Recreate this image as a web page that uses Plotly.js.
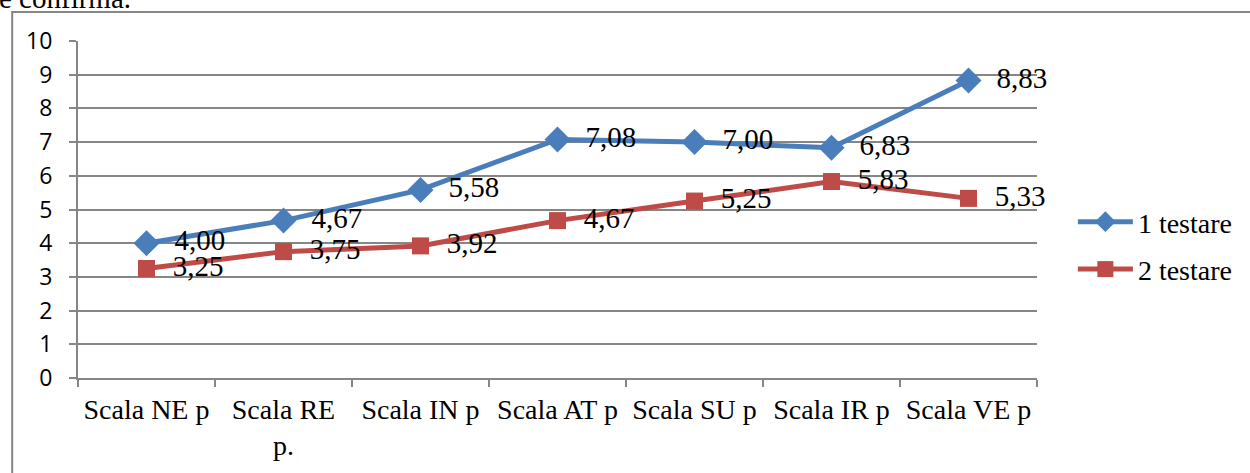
<!DOCTYPE html>
<html>
<head>
<meta charset="utf-8">
<script src="https://cdn.plot.ly/plotly-3.0.1.min.js"></script>
<style>
html,body{margin:0;padding:0;background:#fff;}
#chart{width:1250px;height:473px;}
</style>
</head>
<body>
<div id="chart"></div>
<script>
const categories = ["Scala NE p", "Scala RE p.", "Scala IN p", "Scala AT p", "Scala SU p", "Scala IR p", "Scala VE p"];
const tickLabels = ["Scala NE p", "Scala RE<br>p.", "Scala IN p", "Scala AT p", "Scala SU p", "Scala IR p", "Scala VE p"];
const series1Name = "1 testare";
const series1 = [4.00, 4.67, 5.58, 7.08, 7.00, 6.83, 8.83];
const series2Name = "2 testare";
const series2 = [3.25, 3.75, 3.92, 4.67, 5.25, 5.83, 5.33];
const yTicks = [0,1,2,3,4,5,6,7,8,9,10];

const W = 1250, H = 473;
const L = 78, R = 210, T = 41, B = 95;
const pw = W - L - R, ph = H - T - B;
const px = x => (x - L) / pw;
const py = y => (H - B - y) / ph;

const serif = "Liberation Serif, Times New Roman, serif";
const labelTpl = "\u00a0\u00a0%{y:.2f}";

const traces = [
  {
    x: categories, y: series1, name: series1Name, type: "scatter",
    mode: "lines+markers+text",
    line: {color: "#4a7ebb", width: 5},
    marker: {symbol: "diamond", size: 20, color: "#4a7ebb"},
    texttemplate: labelTpl, textposition: "middle right",
    textfont: {family: serif, size: 29, color: "#000"},
    legendgroup: "a", cliponaxis: false
  },
  {
    x: categories, y: series2, name: series2Name, type: "scatter",
    mode: "lines+markers+text",
    line: {color: "#be4b48", width: 5},
    marker: {symbol: "square", size: 17, color: "#be4b48"},
    texttemplate: labelTpl, textposition: "middle right",
    textfont: {family: serif, size: 29, color: "#000"},
    legendgroup: "b", cliponaxis: false
  }
];

const layout = {
  width: W, height: H,
  margin: {l: L, r: R, t: T, b: B},
  separators: ", ",
  paper_bgcolor: "#fff", plot_bgcolor: "#fff",
  showlegend: true,
  legend: {
    x: px(1076), y: py(197), xanchor: "left", yanchor: "top",
    font: {family: serif, size: 28, color: "#000"},
    itemwidth: 55, tracegroupgap: 8, traceorder: "grouped",
    bgcolor: "rgba(0,0,0,0)"
  },
  xaxis: {
    type: "category",
    tickvals: categories, ticktext: tickLabels,
    tickson: "boundaries", ticks: "outside", ticklen: 7, tickwidth: 2, tickcolor: "#868686",
    showline: true, linecolor: "#868686", linewidth: 2,
    showgrid: false, zeroline: false,
    tickangle: 0, automargin: false,
    tickfont: {family: serif, size: 28, color: "#000"},
    ticklabelstandoff: 5,
    range: [-0.5, categories.length - 0.5]
  },
  yaxis: {
    range: [0, 10], tickvals: yTicks,
    ticks: "outside", ticklen: 7, tickwidth: 2, tickcolor: "#868686",
    showline: true, linecolor: "#868686", linewidth: 2,
    showgrid: true, gridcolor: "#868686", gridwidth: 2,
    zeroline: false,
    tickfont: {family: "Open Sans, Liberation Sans, sans-serif", size: 23, color: "#000"},
    ticklabelstandoff: 12
  },
  shapes: [{
    type: "rect", xref: "paper", yref: "paper",
    x0: px(12), x1: px(1270), y0: py(490), y1: py(12),
    line: {color: "#868686", width: 2}, fillcolor: "rgba(0,0,0,0)", layer: "below"
  }],
  annotations: [{
    text: "e confirma.", xref: "paper", yref: "paper",
    x: px(-3), y: py(16), xanchor: "left", yanchor: "bottom",
    showarrow: false, font: {family: serif, size: 29, color: "#000"}
  }]
};

Plotly.newPlot("chart", traces, layout, {displayModeBar: false, staticPlot: true});
</script>
</body>
</html>
